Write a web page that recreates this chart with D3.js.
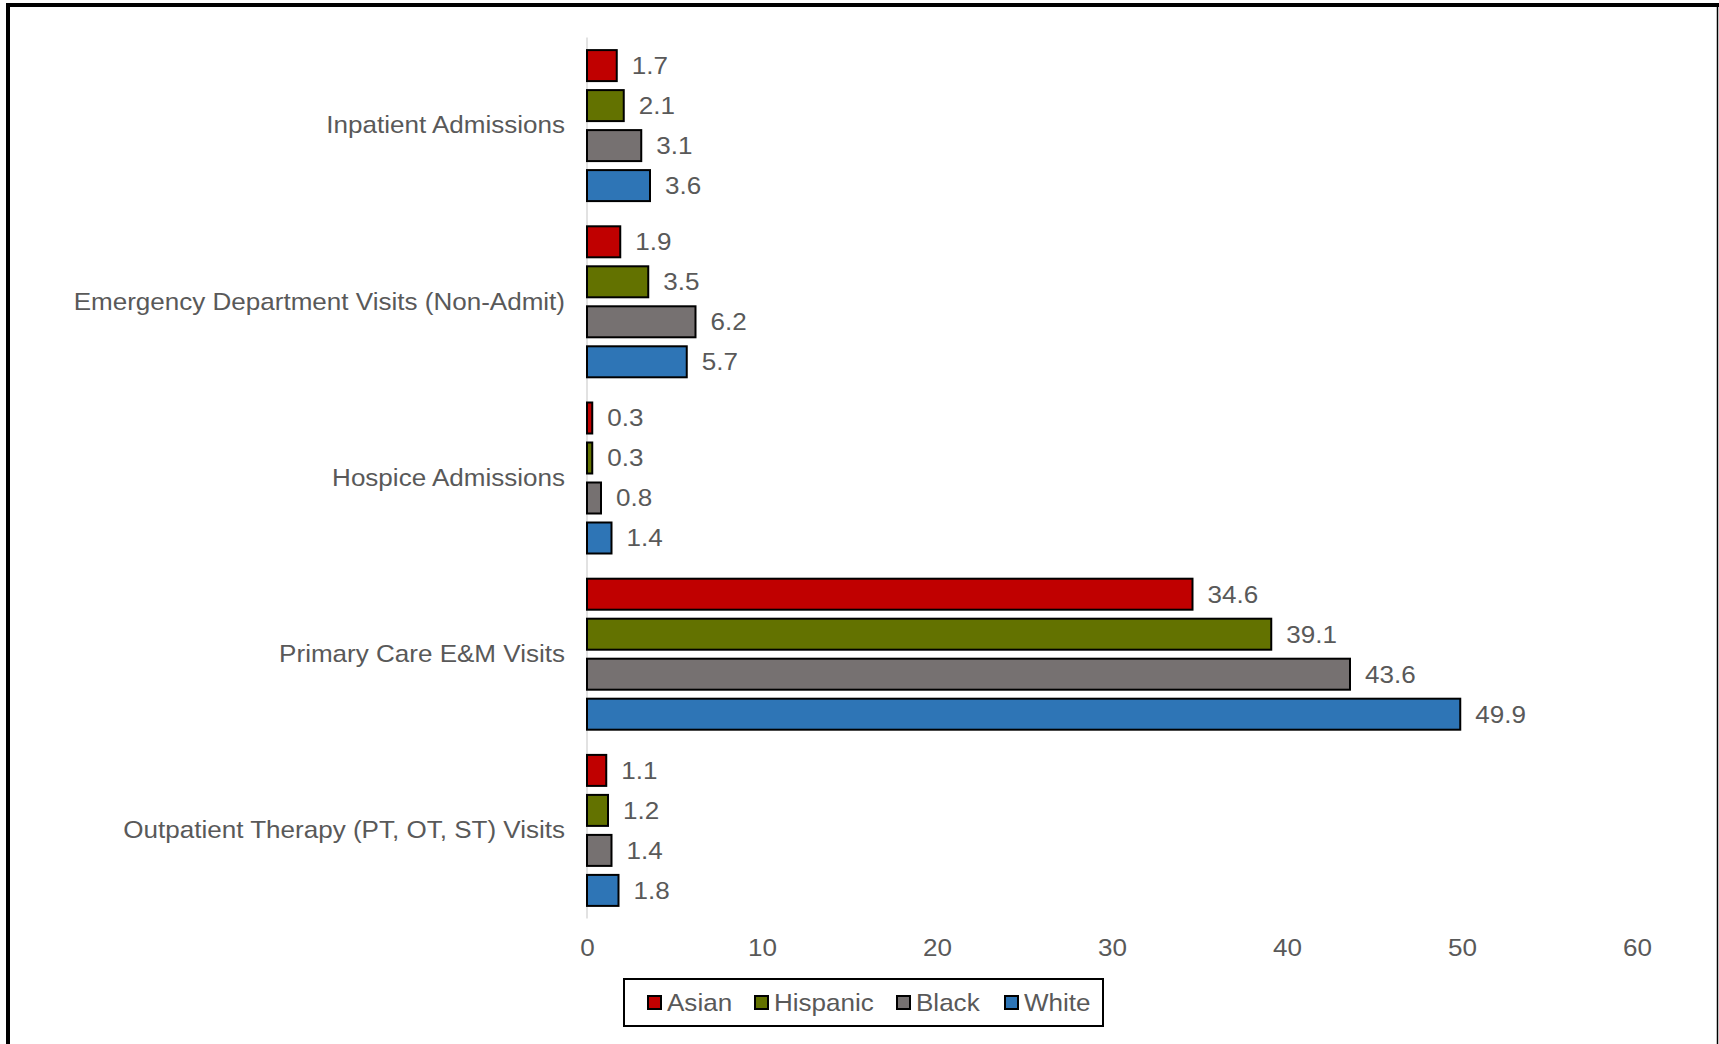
<!DOCTYPE html>
<html>
<head>
<meta charset="utf-8">
<script src="https://cdn.jsdelivr.net/npm/d3@7"></script>
<style>
  html, body { margin: 0; padding: 0; background: #fff; }
  svg { display: block; }
  text { font-family: "Liberation Sans", Arial, sans-serif; fill: #595959; }
</style>
</head>
<body>
<svg id="chart" width="1719" height="1044"></svg>
<script>
const categories = [
  "Inpatient Admissions",
  "Emergency Department Visits (Non-Admit)",
  "Hospice Admissions",
  "Primary Care E&M Visits",
  "Outpatient Therapy (PT, OT, ST) Visits"
];
const seriesNames = ["Asian", "Hispanic", "Black", "White"];
const asian    = [1.7, 1.9, 0.3, 34.6, 1.1];
const hispanic = [2.1, 3.5, 0.3, 39.1, 1.2];
const black    = [3.1, 6.2, 0.8, 43.6, 1.4];
const white    = [3.6, 5.7, 1.4, 49.9, 1.8];
const xTicks = [0, 10, 20, 30, 40, 50, 60];
const colors = ["#C00000", "#637200", "#767171", "#2E75B6"];

const seriesValues = [asian, hispanic, black, white];
const rows = categories.map((c, i) => ({
  category: c,
  values: seriesNames.map((s, j) => ({ series: s, value: seriesValues[j][i], color: colors[j] }))
}));

const svg = d3.select("#chart");
const FS = 24;
const SX = 1.085; // horizontal glyph stretch seen in the reference

// outer frame
svg.append("line").attr("x1", 8).attr("x2", 8).attr("y1", 3).attr("y2", 1044)
  .attr("stroke", "#000").attr("stroke-width", 4);
svg.append("line").attr("x1", 6).attr("x2", 1719).attr("y1", 5).attr("y2", 5)
  .attr("stroke", "#000").attr("stroke-width", 4);
svg.append("line").attr("x1", 1717.5).attr("x2", 1717.5).attr("y1", 3).attr("y2", 1044)
  .attr("stroke", "#000").attr("stroke-width", 1.5);

const x = d3.scaleLinear().domain([0, 60]).range([587, 1637]);
const y0 = d3.scaleBand().domain(categories).range([37.6, 918.6]).padding(0);
const y1 = d3.scaleBand().domain(seriesNames).range([8, 168])
  .paddingInner(0.225).paddingOuter(0.1125);

// x axis tick labels (no axis line)
const xAxis = d3.axisBottom(x).tickValues(xTicks).tickSize(0).tickPadding(0).tickFormat(d3.format("d"));
const gx = svg.append("g").attr("transform", "translate(0,940)").call(xAxis);
gx.select(".domain").remove();
gx.selectAll("text").attr("font-size", FS).attr("font-family", "Liberation Sans, Arial, sans-serif")
  .attr("fill", "#595959").attr("dy", "0.32em").attr("y", 8)
  .attr("transform", `scale(${SX},1)`);

// y axis line
svg.append("line").attr("x1", x(0)).attr("x2", x(0)).attr("y1", 37.6).attr("y2", 918.6)
  .attr("stroke", "#d9d9d9").attr("stroke-width", 1.5);

// category labels
const yAxis = d3.axisLeft(y0).tickSize(0).tickPadding(22);
const gy = svg.append("g").attr("transform", `translate(${x(0)},0)`).call(yAxis);
gy.select(".domain").remove();
gy.selectAll("text").attr("font-size", FS).attr("font-family", "Liberation Sans, Arial, sans-serif")
  .attr("fill", "#595959").attr("x", -22 / SX).attr("transform", `scale(${SX},1)`);

// bars
const groups = svg.append("g").selectAll("g").data(rows).join("g")
  .attr("transform", d => `translate(0,${y0(d.category)})`);

groups.selectAll("rect").data(d => d.values).join("rect")
  .attr("x", x(0))
  .attr("y", d => y1(d.series))
  .attr("width", d => x(d.value) - x(0))
  .attr("height", y1.bandwidth())
  .attr("fill", d => d.color)
  .attr("stroke", "#000")
  .attr("stroke-width", 2);

groups.selectAll("text.val").data(d => d.values).join("text")
  .attr("class", "val")
  .attr("transform", d => `translate(${x(d.value) + 15},${y1(d.series) + y1.bandwidth() / 2}) scale(${SX},1)`)
  .attr("dy", "0.35em")
  .attr("font-size", FS)
  .text(d => d3.format(".1f")(d.value));

// legend
const legend = svg.append("g");
legend.append("rect").attr("x", 624).attr("y", 979).attr("width", 479).attr("height", 47)
  .attr("fill", "#fff").attr("stroke", "#000").attr("stroke-width", 2);
const legendX = [648, 755, 897, 1005];
const li = legend.selectAll("g.item").data(seriesNames).join("g").attr("class", "item")
  .attr("transform", (d, i) => `translate(${legendX[i]},1002.5)`);
li.append("rect").attr("x", 0).attr("y", -6.5).attr("width", 13).attr("height", 13)
  .attr("fill", (d, i) => colors[i]).attr("stroke", "#000").attr("stroke-width", 2);
li.append("text").attr("transform", `translate(19,0) scale(${SX},1)`).attr("dy", "0.35em").attr("font-size", FS)
  .text(d => d);
</script>
</body>
</html>
